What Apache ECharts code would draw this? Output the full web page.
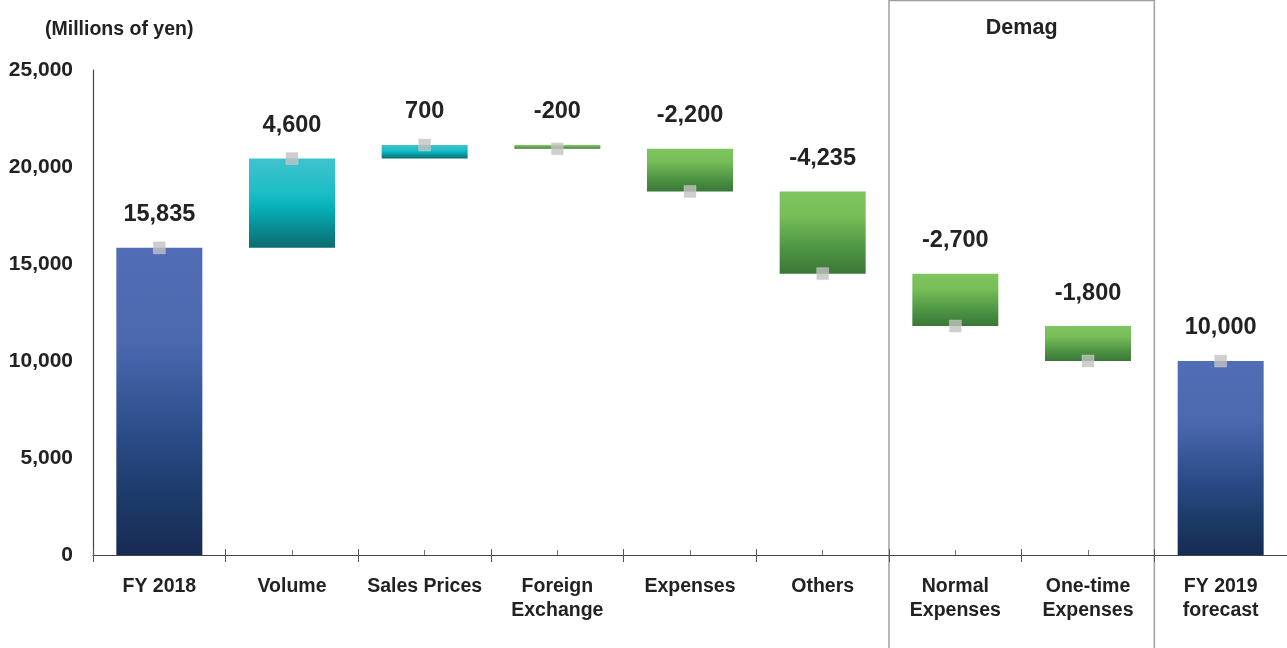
<!doctype html>
<html>
    <head>
        <meta charset="utf-8">
        <title>Waterfall - operating income bridge</title>
        <style>
            html, body { margin: 0; padding: 0; background: #fff; }
            #main { width: 1287px; height: 648px; }
        </style>
    </head>
    <body>
        <div id="main"></div>
        <script src="https://cdn.jsdelivr.net/npm/echarts@6/dist/echarts.min.js"></script>
        <script>

            var categories = ['FY 2018', 'Volume', 'Sales Prices', 'Foreign\nExchange', 'Expenses', 'Others',
                              'Normal\nExpenses', 'One-time\nExpenses', 'FY 2019\nforecast'];
            var changes = [15835, 4600, 700, -200, -2200, -4235, -2700, -1800, 10000];
            var kinds = ['total', 'up', 'up', 'down', 'down', 'down', 'down', 'down', 'total'];
            var yTicks = [0, 5000, 10000, 15000, 20000, 25000];

            var font = '"Liberation Sans", Arial, sans-serif';

            function grad(stops) {
                return new echarts.graphic.LinearGradient(0, 0, 0, 1, stops.map(function (s) {
                    return { offset: s[0], color: s[1] };
                }));
            }
            var colors = {
                total: [[0, '#506db5'], [0.3, '#4c69b0'], [0.6, '#2c4c8a'], [0.8, '#1d3c6b'], [1, '#172a52']],
                up: [[0, '#40c3ce'], [0.4, '#1bbcc6'], [0.55, '#06b0b8'], [1, '#0b6b70']],
                down: [[0, '#7dc55f'], [0.3, '#77bd58'], [0.7, '#4d9443'], [1, '#3a7737']]
            };

            // build waterfall pieces
            var base = [], height = [], ends = [];
            var run = 0;
            changes.forEach(function (v, i) {
                if (kinds[i] === 'total') {
                    base.push(0);
                    height.push(v);
                    run = v;
                } else {
                    var next = run + v;
                    base.push(Math.min(run, next));
                    height.push(Math.abs(v));
                    run = next;
                }
                ends.push(run);
            });

            var myChart = echarts.init(document.getElementById('main'));

            var tickAxis = {
                type: 'category',
                data: categories,
                position: 'bottom',
                axisLine: { show: false },
                axisLabel: { show: false },
                splitLine: { show: false }
            };

            var option = {
                animation: false,
                textStyle: { fontFamily: font },
                title: {
                    text: '(Millions of yen)',
                    left: 40,
                    top: 15,
                    textStyle: { fontSize: 19.5, fontWeight: 'bold', color: '#222', fontFamily: font }
                },
                grid: { left: 93, width: 1197, top: 70, bottom: 93 },
                xAxis: [{
                    type: 'category',
                    data: categories,
                    axisLine: { lineStyle: { color: '#444', width: 1.2 } },
                    axisTick: { show: true, length: 7, lineStyle: { color: '#555' } },
                    axisLabel: {
                        color: '#222', fontSize: 19.5, fontWeight: 'bold', fontFamily: font,
                        margin: 20, lineHeight: 24, interval: 0
                    }
                }, Object.assign({}, tickAxis, {
                    axisTick: { show: true, inside: true, length: 6, lineStyle: { color: '#555' } }
                }), Object.assign({}, tickAxis, {
                    axisTick: { show: true, inside: true, alignWithLabel: true, length: 5, lineStyle: { color: '#777' } }
                })],
                yAxis: {
                    type: 'value',
                    min: yTicks[0],
                    max: yTicks[yTicks.length - 1],
                    interval: 5000,
                    axisLine: { show: true, lineStyle: { color: '#444', width: 1.2 } },
                    axisTick: { show: false },
                    splitLine: { show: false },
                    axisLabel: {
                        color: '#222', fontSize: 21, fontWeight: 'bold', fontFamily: font, margin: 20,
                        formatter: function (v) { return v.toLocaleString('en-US'); }
                    }
                },
                series: [{
                    type: 'bar',
                    stack: 'w',
                    barWidth: 86,
                    silent: true,
                    itemStyle: { color: 'transparent' },
                    data: base
                }, {
                    type: 'bar',
                    stack: 'w',
                    barWidth: 86,
                    data: height.map(function (h, i) {
                        return { value: h, itemStyle: { color: grad(colors[kinds[i]]) } };
                    }),
                    label: {
                        show: true,
                        position: 'top',
                        distance: 21,
                        color: '#222',
                        fontSize: 23.5,
                        fontWeight: 'bold',
                        fontFamily: font,
                        formatter: function (p) { return changes[p.dataIndex].toLocaleString('en-US'); }
                    }
                }, {
                    type: 'scatter',
                    symbol: 'rect',
                    symbolSize: 12,
                    z: 5,
                    itemStyle: { color: '#c2c2c2', borderColor: '#d6d6d6', borderWidth: 0.5 },
                    data: ends
                }]
            };

            myChart.setOption(option);

            // "Demag" box around the two Demag categories
            var c5 = myChart.convertToPixel({ xAxisIndex: 0 }, categories[5]);
            var c6 = myChart.convertToPixel({ xAxisIndex: 0 }, categories[6]);
            var c7 = myChart.convertToPixel({ xAxisIndex: 0 }, categories[7]);
            var band = c6 - c5;
            var bx0 = c6 - band / 2, bx1 = c7 + band / 2;
            myChart.setOption({
                graphic: [{
                    type: 'rect',
                    shape: { x: bx0, y: 0.5, width: bx1 - bx0, height: 700 },
                    style: { fill: 'none', stroke: '#a0a0a0', lineWidth: 1.5 },
                    silent: true,
                    z: 0
                }, {
                    type: 'text',
                    x: (bx0 + bx1) / 2,
                    y: 28,
                    style: {
                        text: 'Demag', fill: '#222', font: 'bold 21.5px ' + font,
                        textAlign: 'center', textVerticalAlign: 'middle'
                    },
                    silent: true
                }]
            });

        </script>
    </body>
</html>
